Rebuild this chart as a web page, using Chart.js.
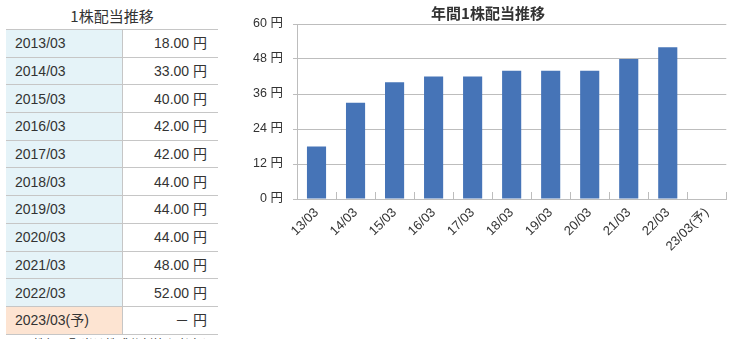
<!DOCTYPE html>
<html><head><meta charset="utf-8">
<script src="https://cdn.jsdelivr.net/npm/chart.js@4"></script>
<style>
html,body{margin:0;padding:0;background:#fff;width:731px;height:339px;overflow:hidden;font-family:"Liberation Sans","Noto Sans CJK JP",sans-serif;color:#333;}
#tbl{position:absolute;left:6px;top:6px;width:212px;}
#tbl .ttl{text-align:center;font-size:15px;height:23px;line-height:20px;color:#333;font-family:"Noto Sans CJK JP",sans-serif;}
table{border-collapse:collapse;width:212px;font-size:14px;}
td{height:26.7px;padding:0;border-top:1px solid #c6c6c6;border-bottom:1px solid #c6c6c6;line-height:16px;}
td.k{background:#e5f3f8;padding-left:9px;width:107px;border-right:1px solid #c6c6c6;}
td.v{text-align:right;padding-right:11px;}
tr.f td.k{background:#fde4d2;}
.note{font-size:12px;color:#333;margin-top:2px;padding-left:15px;font-family:"Noto Sans CJK JP",sans-serif;line-height:14px;}
#wrap{position:absolute;left:249px;top:0;width:482px;height:339px;}
</style></head><body>
<div id="tbl"><div class="ttl">1株配当推移</div><table id="t"></table><div class="note">※株価・配当は株式分割等を考慮した数値です</div></div>
<div id="wrap"><canvas id="c" width="482" height="339"></canvas></div>
<script>
const periods = ["2013/03","2014/03","2015/03","2016/03","2017/03","2018/03","2019/03","2020/03","2021/03","2022/03","2023/03(予)"];
const axisLabels = ["13/03","14/03","15/03","16/03","17/03","18/03","19/03","20/03","21/03","22/03","23/03(予)"];
const dividends = [18, 33, 40, 42, 42, 44, 44, 44, 48, 52, null];
const yTicks = [0, 12, 24, 36, 48, 60];

const t = document.getElementById('t');
periods.forEach((p, i) => {
  const tr = document.createElement('tr');
  if (p.includes('予')) tr.className = 'f';
  const v = dividends[i];
  tr.innerHTML = '<td class="k">' + p + '</td><td class="v">' + (v == null ? '－ 円' : v.toFixed(2) + ' 円') + '</td>';
  t.appendChild(tr);
});

const font = {family: '"Liberation Sans","Noto Sans CJK JP",sans-serif', size: 13};
new Chart(document.getElementById('c'), {
  type: 'bar',
  data: {labels: axisLabels, datasets: [{data: dividends, backgroundColor: '#4674b7', barPercentage: 0.49, categoryPercentage: 1}]},
  options: {
    responsive: false, animation: false,
    layout: {padding: {left: 0, right: 4, top: 0, bottom: 0}},
    plugins: {
      legend: {display: false}, tooltip: {enabled: false},
      title: {display: true, text: '年間1株配当推移', color: '#333', font: {family: '"Noto Sans CJK JP",sans-serif', size: 15, weight: 'bold', lineHeight: 1.2}, padding: {top: 4, bottom: 2}}
    },
    scales: {
      x: {
        offset: true,
        afterFit: s => { s.height = 140; },
        grid: {display: true, drawOnChartArea: false, drawTicks: true, tickLength: -7, color: '#bdbdbd', offset: true},
        border: {color: '#bdbdbd'},
        ticks: {color: '#333', font: font, maxRotation: 45, minRotation: 45, padding: 13}
      },
      y: {
        min: 0, max: 60,
        afterFit: s => { s.width = 48; },
        afterBuildTicks: s => { s.ticks = yTicks.map(v => ({value: v})); },
        grid: {color: '#bdbdbd', tickLength: 4},
        border: {color: '#bdbdbd'},
        ticks: {color: '#333', font: {family: font.family, size: 12.5}, padding: 10, callback: v => v + ' 円'}
      }
    }
  }
});
</script>
</body></html>
